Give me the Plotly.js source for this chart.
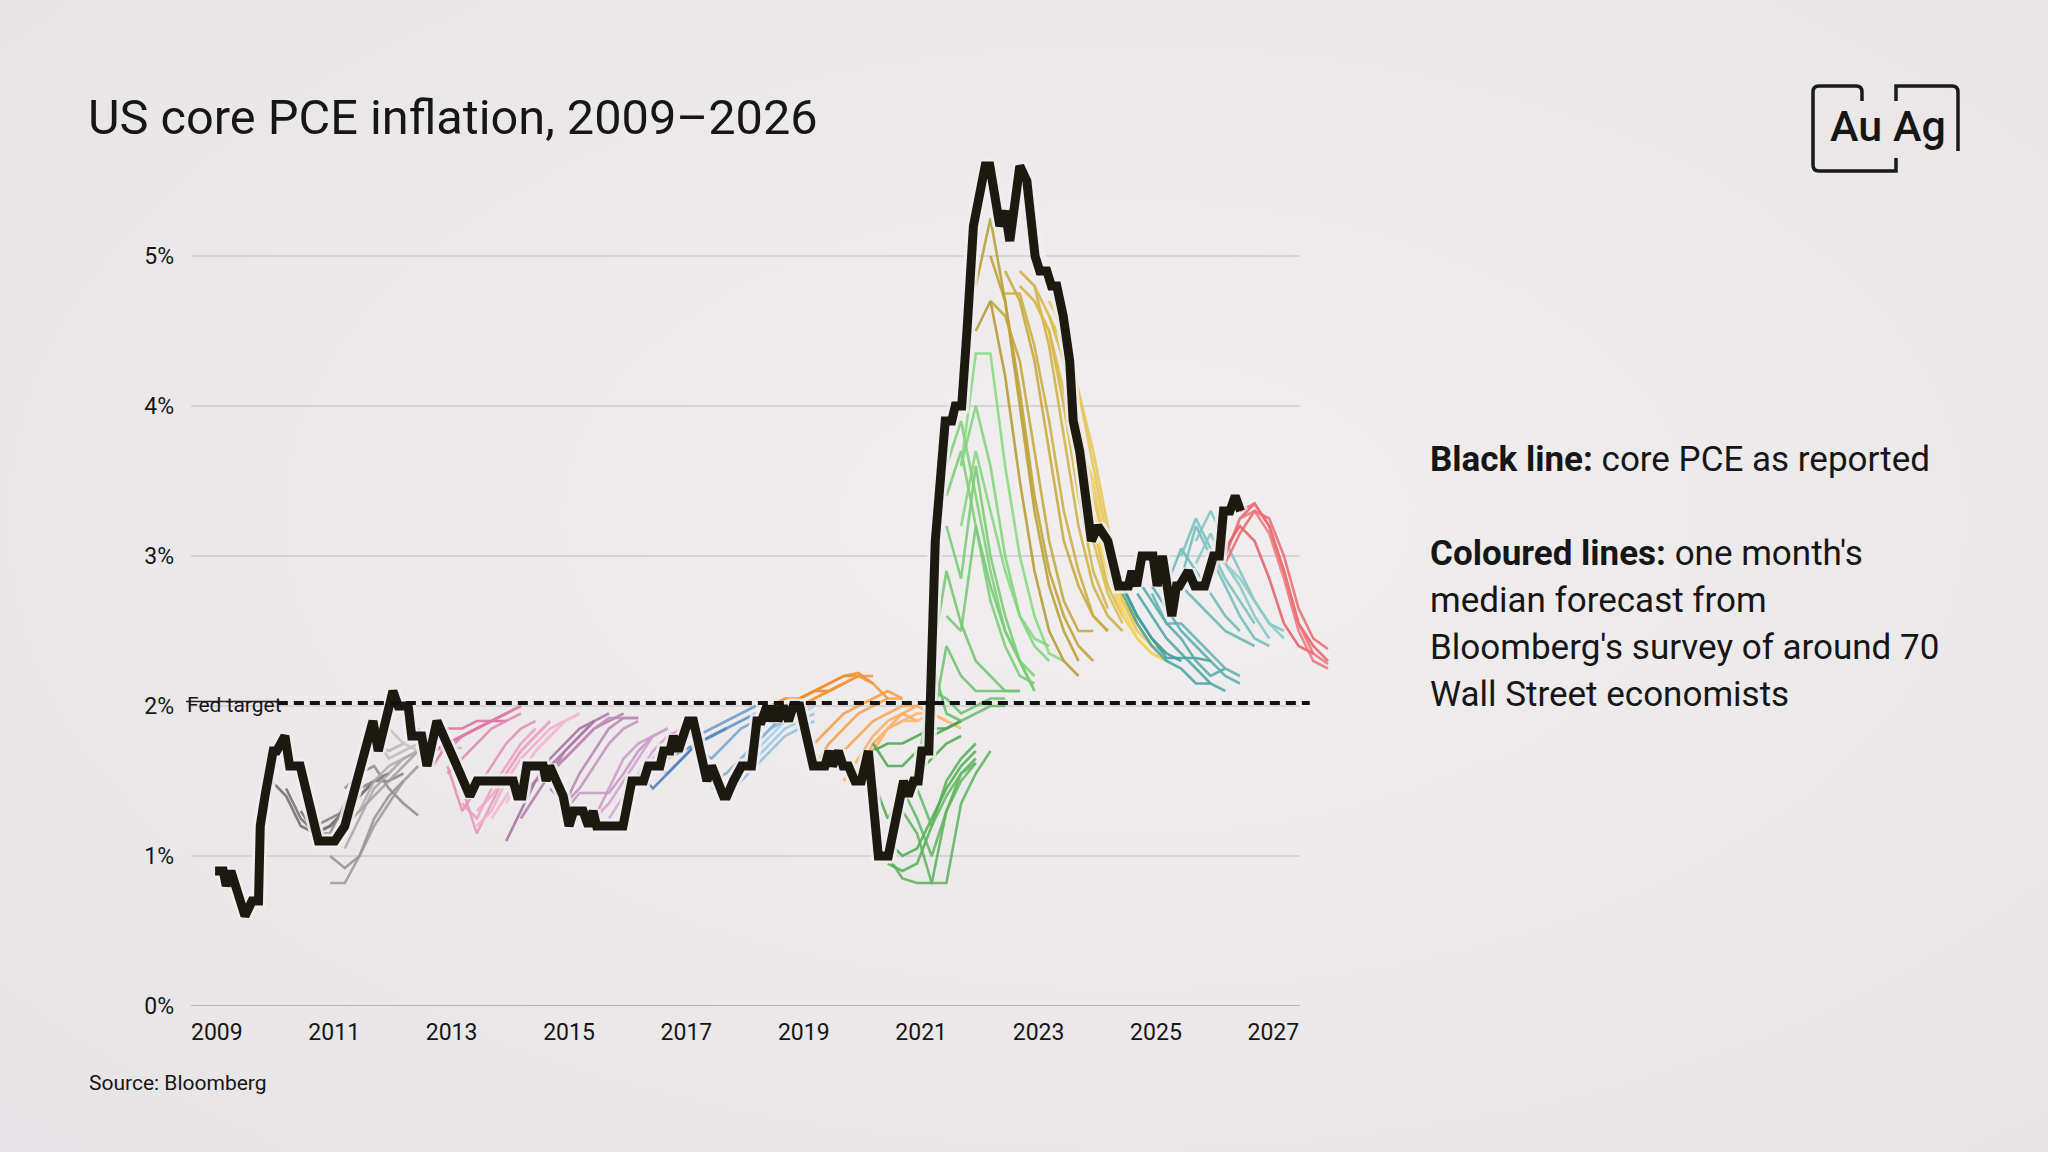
<!DOCTYPE html>
<html>
<head>
<meta charset="utf-8">
<script src="https://cdn.plot.ly/plotly-3.0.1.min.js"></script>
<style>
  html, body { margin: 0; padding: 0; }
  body {
    width: 2048px; height: 1152px; overflow: hidden;
    background: radial-gradient(ellipse at 55% 45%, #f0eeef 0%, #ebe8ea 60%, #e7e4e7 100%);
  }
  #chart { width: 2048px; height: 1152px; }
</style>
</head>
<body>
<div id="chart"></div>
<script>
// core PCE as reported (year, % y/y)
var pceDates = [2008.97, 2009.11, 2009.16, 2009.24, 2009.48, 2009.6, 2009.71, 2009.74, 2009.82, 2009.96,
  2010.02, 2010.16, 2010.24, 2010.42, 2010.73, 2011.01, 2011.18, 2011.35, 2011.5, 2011.66,
  2011.75, 2012.0, 2012.09, 2012.26, 2012.32, 2012.49, 2012.58, 2012.75, 2013.09, 2013.31,
  2013.43, 2014.05, 2014.12, 2014.2, 2014.28, 2014.56, 2014.61, 2014.67, 2014.9, 2015.0,
  2015.08, 2015.24, 2015.33, 2015.41, 2015.47, 2015.92, 2016.07, 2016.27, 2016.35, 2016.55,
  2016.61, 2016.72, 2016.78, 2016.86, 2017.03, 2017.12, 2017.35, 2017.43, 2017.63, 2017.69,
  2017.8, 2017.94, 2018.11, 2018.2, 2018.28, 2018.37, 2018.43, 2018.51, 2018.56, 2018.65,
  2018.74, 2018.82, 2018.93, 2019.16, 2019.36, 2019.43, 2019.49, 2019.59, 2019.67, 2019.76,
  2019.87, 2019.98, 2020.1, 2020.27, 2020.44, 2020.7, 2020.78, 2020.87, 2020.95, 2021.01,
  2021.13, 2021.24, 2021.41, 2021.52, 2021.58, 2021.69, 2021.78, 2021.89, 2022.09, 2022.17,
  2022.34, 2022.43, 2022.51, 2022.68, 2022.8, 2022.94, 2023.02, 2023.14, 2023.22, 2023.31,
  2023.42, 2023.53, 2023.59, 2023.7, 2023.9, 2024.01, 2024.18, 2024.36, 2024.53, 2024.59,
  2024.67, 2024.76, 2024.95, 2025.02, 2025.11, 2025.27, 2025.35, 2025.4, 2025.55, 2025.66,
  2025.83, 2025.98, 2026.08, 2026.15, 2026.26, 2026.35, 2026.44];
var pceValues = [0.9, 0.9, 0.8, 0.9, 0.6, 0.7, 0.7, 1.2, 1.4, 1.7,
  1.7, 1.8, 1.6, 1.6, 1.1, 1.1, 1.2, 1.45, 1.7, 1.9,
  1.7, 2.1, 2.0, 2.0, 1.8, 1.8, 1.6, 1.9, 1.6, 1.4,
  1.5, 1.5, 1.4, 1.4, 1.6, 1.6, 1.5, 1.6, 1.4, 1.2,
  1.3, 1.3, 1.2, 1.3, 1.2, 1.2, 1.5, 1.5, 1.6, 1.6,
  1.7, 1.7, 1.8, 1.7, 1.9, 1.9, 1.5, 1.6, 1.4, 1.4,
  1.5, 1.6, 1.6, 1.9, 1.9, 2.0, 1.9, 2.0, 1.9, 2.0,
  1.9, 2.0, 2.0, 1.6, 1.6, 1.7, 1.6, 1.7, 1.6, 1.6,
  1.5, 1.5, 1.7, 1.0, 1.0, 1.5, 1.4, 1.5, 1.5, 1.7,
  1.7, 3.1, 3.9, 3.9, 4.0, 4.0, 4.5, 5.2, 5.6, 5.6,
  5.2, 5.3, 5.1, 5.6, 5.5, 5.0, 4.9, 4.9, 4.8, 4.8,
  4.6, 4.3, 3.9, 3.7, 3.1, 3.2, 3.1, 2.8, 2.8, 2.9,
  2.8, 3.0, 3.0, 2.8, 3.0, 2.6, 2.8, 2.8, 2.9, 2.8,
  2.8, 3.0, 3.0, 3.3, 3.3, 3.4, 3.3];

// monthly survey medians: [first forecast quarter, quarterly values]
var forecasts2010 = [
  [2009.93, [1.50, 1.40, 1.20, 1.15, 1.20, 1.30, 1.40]],
  [2010.18, [1.45, 1.25, 1.15, 1.20, 1.30, 1.40, 1.50]],
  [2010.43, [1.30, 1.15, 1.20, 1.30, 1.40, 1.50, 1.55]],
  [2010.68, [1.20, 1.25, 1.30, 1.40, 1.50, 1.55]],
  [2010.68, [1.15, 1.15, 1.35, 1.45, 1.50, 1.50, 1.55]],
  [2011.18, [1.45, 1.55, 1.60, 1.45, 1.35, 1.27]],
  [2010.93, [1.00, 0.92, 1.00, 1.25, 1.40, 1.50]],
  [2010.93, [0.82, 0.82, 1.00, 1.20, 1.35, 1.50, 1.60]],
  [2011.18, [1.20, 1.30, 1.40, 1.50, 1.60, 1.70]],
  [2011.18, [1.05, 1.25, 1.45, 1.55, 1.65, 1.70]],
  [2011.43, [1.30, 1.50, 1.60, 1.65, 1.70]],
  [2011.68, [1.75, 1.70, 1.75, 1.80, 1.80]],
  [2011.68, [1.80, 1.65, 1.70, 1.75, 1.80, 1.80]],
  [2011.93, [1.85, 1.75, 1.70, 1.70, 1.72, 1.72]]
];
var forecasts2012 = [
  [2012.43, [1.85, 1.70, 1.75, 1.80, 1.85, 1.90, 1.90]],
  [2012.68, [1.75, 1.85, 1.85, 1.90, 1.90, 1.95]],
  [2012.68, [1.60, 1.75, 1.80, 1.85, 1.90, 1.95, 2.00]],
  [2012.93, [1.70, 1.80, 1.85, 1.90, 1.95, 2.00]],
  [2012.93, [1.55, 1.65, 1.75, 1.85, 1.90, 1.95]],
  [2012.93, [1.60, 1.30, 1.45, 1.60, 1.75, 1.85, 1.90]],
  [2013.18, [1.45, 1.15, 1.35, 1.55, 1.70, 1.80, 1.90]],
  [2013.18, [1.35, 1.25, 1.45, 1.60, 1.75, 1.85]],
  [2013.43, [1.30, 1.40, 1.55, 1.70, 1.80, 1.90]],
  [2013.43, [1.20, 1.30, 1.50, 1.65, 1.75, 1.85, 1.90]],
  [2013.68, [1.25, 1.40, 1.55, 1.70, 1.80, 1.90, 1.95]],
  [2013.93, [1.35, 1.55, 1.70, 1.80, 1.90, 1.95]]
];
var forecasts2014 = [
  [2013.93, [1.10, 1.30, 1.50, 1.65, 1.75, 1.85, 1.90]],
  [2014.18, [1.40, 1.50, 1.60, 1.70, 1.80, 1.90, 1.95]],
  [2014.18, [1.25, 1.40, 1.55, 1.70, 1.80, 1.90]],
  [2014.43, [1.50, 1.55, 1.65, 1.75, 1.85, 1.90, 1.95]],
  [2014.68, [1.45, 1.35, 1.55, 1.70, 1.85, 1.92, 1.92]],
  [2014.68, [1.60, 1.65, 1.75, 1.85, 1.92, 1.92, 1.92]],
  [2014.93, [1.35, 1.45, 1.60, 1.75, 1.85, 1.90]],
  [2014.93, [1.30, 1.42, 1.42, 1.42, 1.55, 1.70, 1.80]],
  [2015.18, [1.30, 1.25, 1.45, 1.65, 1.75, 1.80, 1.85]],
  [2015.43, [1.25, 1.35, 1.50, 1.65, 1.80, 1.85]],
  [2015.68, [1.25, 1.40, 1.55, 1.70, 1.80, 1.85]],
  [2015.93, [1.35, 1.50, 1.65, 1.75, 1.80, 1.83]]
];
var forecasts2016 = [
  [2016.18, [1.55, 1.45, 1.55, 1.65, 1.75, 1.80, 1.85]],
  [2016.43, [1.60, 1.55, 1.65, 1.75, 1.80, 1.85]],
  [2016.68, [1.65, 1.70, 1.75, 1.80, 1.85, 1.90, 1.95]],
  [2016.93, [1.80, 1.80, 1.85, 1.90, 1.95, 2.00]],
  [2017.18, [1.70, 1.65, 1.75, 1.85, 1.90, 1.95, 2.00]],
  [2017.43, [1.50, 1.55, 1.65, 1.75, 1.85, 1.95]],
  [2017.43, [1.45, 1.45, 1.60, 1.75, 1.85, 1.90]],
  [2017.68, [1.40, 1.50, 1.60, 1.70, 1.80, 1.85, 1.90]],
  [2017.93, [1.55, 1.65, 1.75, 1.85, 1.90, 1.95]],
  [2017.93, [1.60, 1.70, 1.80, 1.90, 1.95, 2.00]]
];
var forecasts2018 = [
  [2018.18, [1.90, 1.95, 2.00, 2.05, 2.10, 2.10, 2.15]],
  [2018.43, [2.00, 2.05, 2.05, 2.10, 2.15, 2.20, 2.20]],
  [2018.68, [2.00, 2.05, 2.10, 2.15, 2.20, 2.22, 2.15]],
  [2018.68, [1.95, 2.00, 2.05, 2.10, 2.15, 2.20, 2.20]],
  [2018.93, [1.95, 2.05, 2.10, 2.15, 2.20, 2.15, 2.05]],
  [2019.18, [1.75, 1.85, 1.95, 2.00, 2.05, 2.10, 2.05]],
  [2019.18, [1.60, 1.75, 1.85, 1.95, 2.00, 2.05, 2.05]],
  [2019.43, [1.65, 1.70, 1.80, 1.90, 1.95, 2.00, 2.00]],
  [2019.68, [1.65, 1.55, 1.75, 1.85, 1.95, 2.00, 1.95]],
  [2019.68, [1.50, 1.65, 1.80, 1.90, 1.95, 1.90]],
  [2019.93, [1.55, 1.70, 1.85, 1.90, 1.95, 1.95, 1.90]],
  [2020.18, [1.70, 1.85, 1.90, 1.90, 1.95, 1.90, 1.85]]
];
var forecasts2020 = [
  [2020.18, [1.70, 1.75, 1.75, 1.80, 1.85, 1.85, 1.90]],
  [2020.18, [1.75, 1.60, 1.60, 1.70, 1.80, 1.85, 1.90]],
  [2020.18, [1.50, 1.25, 1.40, 1.55, 1.65, 1.75, 1.80]],
  [2020.43, [1.10, 1.00, 1.05, 1.25, 1.45, 1.60, 1.70]],
  [2020.43, [0.95, 0.90, 0.95, 1.20, 1.50, 1.65, 1.75]],
  [2020.43, [1.00, 0.85, 0.82, 0.82, 1.30, 1.55, 1.65]],
  [2020.68, [1.30, 1.15, 0.82, 0.82, 1.35, 1.55, 1.70]],
  [2020.68, [1.45, 1.25, 1.00, 1.30, 1.50, 1.62]],
  [2020.93, [1.45, 1.20, 1.40, 1.55, 1.62]],
  [2020.93, [1.45, 2.30, 1.95, 1.90, 1.95, 2.00, 2.00]],
  [2020.93, [1.60, 2.10, 2.05, 1.95, 2.00, 2.05, 2.05]],
  [2021.18, [1.85, 2.40, 2.20, 2.10, 2.10, 2.10, 2.10]],
  [2021.18, [2.30, 2.90, 2.55, 2.30, 2.20, 2.10, 2.10]],
  [2021.43, [2.60, 2.50, 3.20, 2.80, 2.50, 2.30, 2.10]],
  [2021.43, [3.20, 2.85, 3.60, 3.00, 2.60, 2.30, 2.10]],
  [2021.43, [3.40, 3.70, 3.20, 2.70, 2.40, 2.20, 2.15]],
  [2021.43, [3.60, 3.90, 3.40, 2.90, 2.50, 2.30, 2.20]],
  [2021.68, [3.60, 4.00, 3.60, 3.00, 2.60, 2.40, 2.30]],
  [2021.68, [3.20, 3.70, 3.30, 2.90, 2.60, 2.45, 2.40]],
  [2021.68, [3.60, 4.35, 4.35, 3.60, 3.00, 2.60, 2.35, 2.30]]
];
var forecasts2022 = [
  [2021.93, [4.50, 4.70, 4.20, 3.50, 2.90, 2.50, 2.30, 2.20]],
  [2021.93, [4.80, 5.25, 4.70, 4.00, 3.30, 2.80, 2.50, 2.30]],
  [2022.18, [5.00, 4.70, 4.10, 3.40, 2.90, 2.60, 2.40, 2.30]],
  [2022.18, [4.70, 4.60, 4.30, 3.70, 3.10, 2.70, 2.50, 2.50]],
  [2022.43, [4.90, 4.70, 4.30, 3.70, 3.10, 2.80, 2.60, 2.50]],
  [2022.43, [4.75, 4.75, 4.40, 3.90, 3.30, 2.90, 2.60, 2.50]],
  [2022.68, [4.90, 4.80, 4.40, 3.80, 3.20, 2.80, 2.60, 2.50]],
  [2022.68, [4.80, 4.70, 4.50, 4.00, 3.40, 2.90, 2.65]],
  [2022.93, [4.80, 4.60, 4.30, 3.70, 3.20, 2.80, 2.60]],
  [2022.93, [4.70, 4.50, 4.10, 3.60, 3.10, 2.75, 2.55]],
  [2023.18, [4.60, 4.40, 3.90, 3.40, 3.00, 2.70, 2.55]],
  [2023.18, [4.70, 4.50, 4.10, 3.60, 3.10, 2.70, 2.50]],
  [2023.43, [4.40, 4.10, 3.70, 3.20, 2.80, 2.55, 2.40]],
  [2023.68, [3.80, 3.50, 3.00, 2.70, 2.50, 2.40, 2.35]],
  [2023.68, [3.70, 3.30, 2.90, 2.60, 2.45, 2.35, 2.30]],
  [2023.93, [3.20, 2.90, 2.65, 2.45, 2.35, 2.30]]
];
var forecasts2024 = [
  [2024.18, [3.10, 2.80, 2.60, 2.45, 2.35, 2.30]],
  [2024.43, [2.80, 2.60, 2.45, 2.32, 2.32, 2.32, 2.30]],
  [2024.43, [2.75, 2.55, 2.40, 2.30, 2.25, 2.15, 2.15]],
  [2024.68, [2.75, 2.60, 2.45, 2.35, 2.25, 2.15, 2.10]],
  [2024.68, [2.85, 2.70, 2.55, 2.45, 2.30, 2.20, 2.25]],
  [2024.93, [2.80, 2.65, 2.50, 2.40, 2.30, 2.20, 2.15]],
  [2024.93, [2.75, 2.55, 2.55, 2.45, 2.35, 2.25, 2.20]],
  [2025.18, [2.65, 2.80, 2.70, 2.60, 2.50, 2.45, 2.40]],
  [2025.18, [2.80, 3.05, 2.90, 2.75, 2.60, 2.50]],
  [2025.43, [2.85, 3.20, 3.00, 2.80, 2.60, 2.45, 2.40]],
  [2025.43, [3.00, 3.25, 3.05, 2.85, 2.70, 2.55]],
  [2025.68, [3.10, 3.30, 3.10, 2.90, 2.70, 2.55, 2.50]],
  [2025.68, [2.95, 3.15, 2.95, 2.80, 2.60, 2.45]],
  [2025.93, [3.00, 2.95, 2.85, 2.70, 2.55, 2.45]]
];
var forecasts2026 = [
  [2025.93, [2.85, 3.05, 3.20, 3.10, 2.85, 2.55, 2.40, 2.35]],
  [2026.18, [3.00, 3.25, 3.35, 3.20, 2.90, 2.55, 2.40, 2.30]],
  [2026.18, [2.95, 3.15, 3.30, 3.25, 3.00, 2.65, 2.45, 2.38]],
  [2026.43, [3.30, 3.35, 3.20, 2.90, 2.55, 2.35, 2.28]],
  [2026.43, [3.25, 3.30, 3.15, 2.85, 2.50, 2.30, 2.25]]
];

var yTicks = [0, 1, 2, 3, 4, 5];
var yTickText = ['0%', '1%', '2%', '3%', '4%', '5%'];
var xTicks = [2009, 2011, 2013, 2015, 2017, 2019, 2021, 2023, 2025, 2027];
var fedTarget = 2.02;

var groups = [
  {lines: forecasts2010, dark: '#6c6866', light: '#c6c1bf'},
  {lines: forecasts2012, dark: '#d5689a', light: '#f9bad3'},
  {lines: forecasts2014, dark: '#a56f9d', light: '#dcaad6'},
  {lines: forecasts2016, dark: '#4a7db6', light: '#a2d0ee'},
  {lines: forecasts2018, dark: '#f0861c', light: '#fdb66e'},
  {lines: forecasts2020, dark: '#47a34a', light: '#84d97d'},
  {lines: forecasts2022, dark: '#b5982a', light: '#f4d25a'},
  {lines: forecasts2024, dark: '#37999a', light: '#8acbc7'},
  {lines: forecasts2026, dark: '#e65c64', light: '#ee747a'}
];

function mix(a, b, t) {
  var pa = [1, 3, 5].map(function (i) { return parseInt(a.substr(i, 2), 16); });
  var pb = [1, 3, 5].map(function (i) { return parseInt(b.substr(i, 2), 16); });
  var c = pa.map(function (v, i) { return Math.round(v + (pb[i] - v) * t); });
  return 'rgb(' + c.join(',') + ')';
}

var data = [];
groups.forEach(function (g) {
  var n = g.lines.length;
  g.lines.forEach(function (f, i) {
    var t = n > 1 ? i / (n - 1) : 0;
    data.push({
      x: f[1].map(function (v, k) { return f[0] + 0.25 * k; }),
      y: f[1],
      mode: 'lines',
      line: {color: mix(g.dark, g.light, t), width: 2.6},
      opacity: 0.85,
      hoverinfo: 'skip',
      showlegend: false
    });
  });
});

// light halo, then the reported series
data.push({x: pceDates, y: pceValues, mode: 'lines',
  line: {color: 'rgba(240,237,239,0.85)', width: 15, shape: 'linear'},
  hoverinfo: 'skip', showlegend: false});
data.push({x: pceDates, y: pceValues, mode: 'lines',
  line: {color: '#1b1910', width: 9},
  showlegend: false});

// pixel layout helpers (plot area)
var L = 191, T = 136, W = 1144, H = 869.6;
function px(X) { return (X - L) / W; }
function py(Y) { return 1 - (Y - T) / H; }
function path(pts) {
  return pts.map(function (p) {
    if (typeof p === 'string') return p;
    return px(p[0]).toFixed(5) + ',' + py(p[1]).toFixed(5);
  }).join(' ');
}

var xMin = 2008.56, xMax = 2028.05, gridEnd = 2027.45;
var shapes = [];
yTicks.forEach(function (v) {
  shapes.push({type: 'line', xref: 'x', yref: 'y', x0: xMin, x1: gridEnd, y0: v, y1: v,
    layer: 'below', line: {color: v === 0 ? '#a9a6a8' : '#cfcccf', width: v === 0 ? 1.6 : 1.4}});
});
shapes.push({type: 'line', xref: 'x', yref: 'y', x0: 2010.04, x1: 2027.62, y0: fedTarget, y1: fedTarget,
  line: {color: '#111111', width: 4, dash: '10px,6px'}});
shapes.push({type: 'line', xref: 'paper', yref: 'y', x0: px(186), x1: px(280), y0: fedTarget + 0.01, y1: fedTarget + 0.01,
  line: {color: '#222222', width: 1.5}});

// Au Ag logo frame
var logoLine = {color: '#1a1a1a', width: 3.5};
shapes.push({type: 'path', xref: 'paper', yref: 'paper', line: logoLine,
  path: path(['M', [1862, 101], 'L', [1862, 92], 'Q', [1862, 86], [1856, 86], 'L', [1819, 86],
    'Q', [1813, 86], [1813, 92], 'L', [1813, 165], 'Q', [1813, 171], [1819, 171], 'L', [1896, 171], 'L', [1896, 158]])});
shapes.push({type: 'path', xref: 'paper', yref: 'paper', line: logoLine,
  path: path(['M', [1896, 101], 'L', [1896, 86], 'L', [1952, 86], 'Q', [1958, 86], [1958, 92], 'L', [1958, 151]])});

var font = 'Roboto, "Noto Sans", sans-serif';
var ink = '#161616';
function note(text, X, Y, size, extra) {
  var a = {xref: 'paper', yref: 'paper', x: px(X), y: py(Y), text: text, showarrow: false,
    xanchor: 'left', yanchor: 'middle', font: {family: font, size: size, color: ink}};
  for (var k in extra) a[k] = extra[k];
  return a;
}

var annotations = [
  note('Fed target', 185, 705, 21),
  note('Source: Bloomberg', 87, 1083, 21),
  note('Au Ag', 1888, 126, 43, {xanchor: 'center', font: {family: font, size: 43, color: ink, weight: 500}}),
  note('<b>Black line:</b> core PCE as reported', 1428, 459, 35),
  note('<b>Coloured lines:</b> one month\'s', 1428, 553, 35),
  note('median forecast from', 1428, 600, 35),
  note('Bloomberg\'s survey of around 70', 1428, 647, 35),
  note('Wall Street economists', 1428, 694, 35)
];

var layout = {
  width: 2048, height: 1152,
  paper_bgcolor: 'rgba(0,0,0,0)', plot_bgcolor: 'rgba(0,0,0,0)',
  margin: {l: L, r: 2048 - L - W, t: T, b: 1152 - T - H, pad: 0},
  title: {text: 'US core PCE inflation, 2009–2026', xref: 'container', yref: 'container',
    x: 88 / 2048, xanchor: 'left', y: 1 - 117 / 1152, yanchor: 'middle',
    font: {family: font, size: 48.7, color: ink}},
  xaxis: {range: [xMin, xMax], showgrid: false, zeroline: false, showline: false,
    tickmode: 'array', tickvals: xTicks, ticktext: xTicks.map(String), ticks: '',
    ticklabelstandoff: 10, automargin: false,
    tickfont: {family: font, size: 23, color: ink}},
  yaxis: {range: [0, 5.8], showgrid: false, zeroline: false, showline: false,
    tickmode: 'array', tickvals: yTicks, ticktext: yTickText, ticks: '',
    ticklabelstandoff: 16, automargin: false,
    tickfont: {family: font, size: 23, color: ink}},
  shapes: shapes,
  annotations: annotations,
  showlegend: false
};

Plotly.newPlot('chart', data, layout, {displayModeBar: false, staticPlot: true});
</script>
</body>
</html>
